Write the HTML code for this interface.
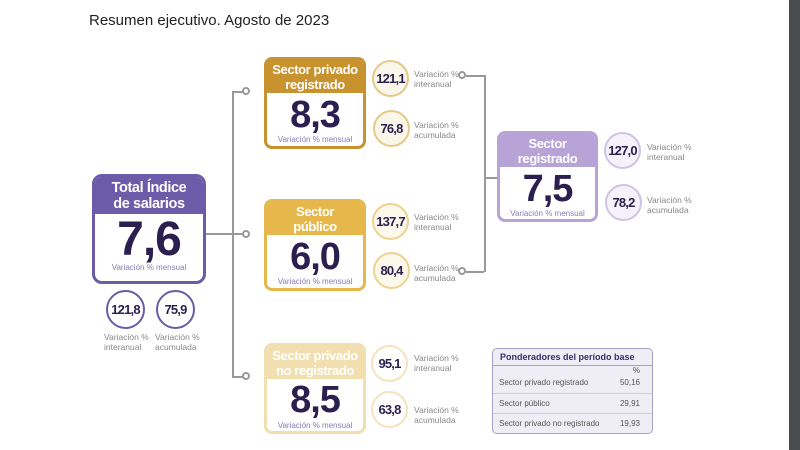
<!DOCTYPE html>
<html><head><meta charset="utf-8"><style>
*{margin:0;padding:0;box-sizing:border-box}
body{width:800px;height:450px;background:#fff;position:relative;overflow:hidden;font-family:"Liberation Sans",sans-serif}
.a{position:absolute}
.box{position:absolute;border:3px solid;border-radius:8px;background:#fff;overflow:hidden;text-align:center}
.hd{color:#fff;font-weight:bold;line-height:15px;display:flex;align-items:center;justify-content:center;white-space:nowrap;letter-spacing:-0.4px}
.num{color:#2a1f4f;font-weight:bold;letter-spacing:-1px}
.sub{font-size:8px;color:#8a7cb8;white-space:nowrap}
.c{position:absolute;border:2.5px solid;border-radius:50%;display:flex;align-items:center;justify-content:center;font-weight:bold;color:#2a1f4f;font-size:13px;letter-spacing:-0.8px}
.lb{position:absolute;font-size:8.5px;color:#888;line-height:10px}
.ln{position:absolute;background:#999}
.dot{position:absolute;width:8px;height:8px;border:2px solid #999;border-radius:50%;background:#fff}
</style></head><body>
<div class="a" style="left:89px;top:12px;font-size:15px;color:#222">Resumen ejecutivo. Agosto de 2023</div>

<div class="ln" style="left:205px;top:233px;width:28px;height:1.5px"></div>
<div class="ln" style="left:232px;top:91px;width:1.5px;height:286px"></div>
<div class="ln" style="left:232px;top:91px;width:11px;height:1.5px"></div>
<div class="ln" style="left:232px;top:233px;width:11px;height:1.5px"></div>
<div class="ln" style="left:232px;top:376px;width:11px;height:1.5px"></div>
<div class="dot" style="left:242px;top:87px"></div>
<div class="dot" style="left:242px;top:230px"></div>
<div class="dot" style="left:242px;top:372px"></div>
<div class="ln" style="left:466px;top:75px;width:18px;height:1.5px"></div>
<div class="ln" style="left:466px;top:271px;width:18px;height:1.5px"></div>
<div class="ln" style="left:484px;top:75px;width:1.5px;height:197px"></div>
<div class="ln" style="left:484px;top:177px;width:14px;height:1.5px"></div>
<div class="dot" style="left:458px;top:71px"></div>
<div class="dot" style="left:458px;top:267px"></div>

<div class="box" style="left:92px;top:174px;width:114px;height:110px;border-color:#6b5ba8;border-radius:10px">
<div class="hd" style="background:#6b5ba8;height:37px;font-size:14.5px;line-height:16px">Total Índice<br>de salarios</div>
<div class="num" style="font-size:48px;line-height:52px">7,6</div>
<div class="sub" style="margin-top:-3px">Variación % mensual</div></div>
<div class="c" style="left:106px;top:290px;width:39px;height:39px;border-color:#6b5ba8">121,8</div>
<div class="c" style="left:156px;top:290px;width:39px;height:39px;border-color:#6b5ba8">75,9</div>
<div class="lb" style="left:104px;top:332px">Variación %<br>interanual</div>
<div class="lb" style="left:155px;top:332px">Variación %<br>acumulada</div>

<div class="box" style="left:264px;top:57px;width:102px;height:92px;border-color:#c8922e">
<div class="hd" style="background:#c8922e;height:33px;font-size:13px">Sector privado<br>registrado</div>
<div class="num" style="font-size:38px;line-height:44px">8,3</div>
<div class="sub" style="margin-top:-2px">Variación % mensual</div></div>
<div class="c" style="left:372px;top:60px;width:37px;height:37px;border-color:#e5c98a;background:#fbf6ea">121,1</div>
<div class="c" style="left:373px;top:110px;width:37px;height:37px;border-color:#e5c98a;background:#fbf6ea">76,8</div>
<div class="lb" style="left:414px;top:69px">Variación %<br>interanual</div>
<div class="lb" style="left:414px;top:120px">Variación %<br>acumulada</div>

<div class="box" style="left:264px;top:199px;width:102px;height:92px;border-color:#e6b84c">
<div class="hd" style="background:#e6b84c;height:33px;font-size:13px">Sector<br>público</div>
<div class="num" style="font-size:38px;line-height:44px">6,0</div>
<div class="sub" style="margin-top:-2px">Variación % mensual</div></div>
<div class="c" style="left:372px;top:203px;width:37px;height:37px;border-color:#eed28f;background:#fdf8ec">137,7</div>
<div class="c" style="left:373px;top:252px;width:37px;height:37px;border-color:#eed28f;background:#fdf8ec">80,4</div>
<div class="lb" style="left:414px;top:212px">Variación %<br>interanual</div>
<div class="lb" style="left:414px;top:263px">Variación %<br>acumulada</div>

<div class="box" style="left:264px;top:343px;width:102px;height:91px;border-color:#f1dfb0">
<div class="hd" style="background:#f1dfb0;height:33px;font-size:13px">Sector privado<br>no registrado</div>
<div class="num" style="font-size:38px;line-height:42px">8,5</div>
<div class="sub">Variación % mensual</div></div>
<div class="c" style="left:371px;top:345px;width:37px;height:37px;border-color:#f3e4bc;background:#fff">95,1</div>
<div class="c" style="left:371px;top:391px;width:37px;height:37px;border-color:#f3e4bc;background:#fff">63,8</div>
<div class="lb" style="left:414px;top:353px">Variación %<br>interanual</div>
<div class="lb" style="left:414px;top:405px">Variación %<br>acumulada</div>

<div class="box" style="left:497px;top:131px;width:101px;height:91px;border-color:#b7a3d6">
<div class="hd" style="background:#b7a3d6;height:33px;font-size:13px">Sector<br>registrado</div>
<div class="num" style="font-size:38px;line-height:44px">7,5</div>
<div class="sub" style="margin-top:-2px">Variación % mensual</div></div>
<div class="c" style="left:604px;top:132px;width:37px;height:37px;border-color:#cfc3e6;background:#f5f2fa">127,0</div>
<div class="c" style="left:605px;top:184px;width:37px;height:37px;border-color:#cfc3e6;background:#f5f2fa">78,2</div>
<div class="lb" style="left:647px;top:142px">Variación %<br>interanual</div>
<div class="lb" style="left:647px;top:195px">Variación %<br>acumulada</div>

<div class="a" style="left:492px;top:348px;width:161px;height:86px;border:1.5px solid #a8a0c8;border-radius:5px;background:#efedf5;font-size:8px;color:#555;overflow:hidden">
<div style="height:17px;line-height:16px;padding-left:7px;font-weight:bold;color:#3a2f6a;font-size:9px;border-bottom:1px solid #a8a0c8">Ponderadores del período base</div>
<div style="height:10px;text-align:right;padding-right:12px;line-height:10px">%</div>
<div style="height:18px;line-height:14px;padding:0 12px 0 6px;display:flex;justify-content:space-between;border-bottom:1px solid #d0cbe2"><span>Sector privado registrado</span><span>50,16</span></div>
<div style="height:20px;line-height:20px;padding:0 12px 0 6px;display:flex;justify-content:space-between;border-bottom:1px solid #d0cbe2"><span>Sector público</span><span>29,91</span></div>
<div style="height:20px;line-height:20px;padding:0 12px 0 6px;display:flex;justify-content:space-between"><span>Sector privado no registrado</span><span>19,93</span></div>
</div>

<div class="a" style="left:789px;top:0;width:11px;height:450px;background:#4a4d50"></div>
</body></html>
